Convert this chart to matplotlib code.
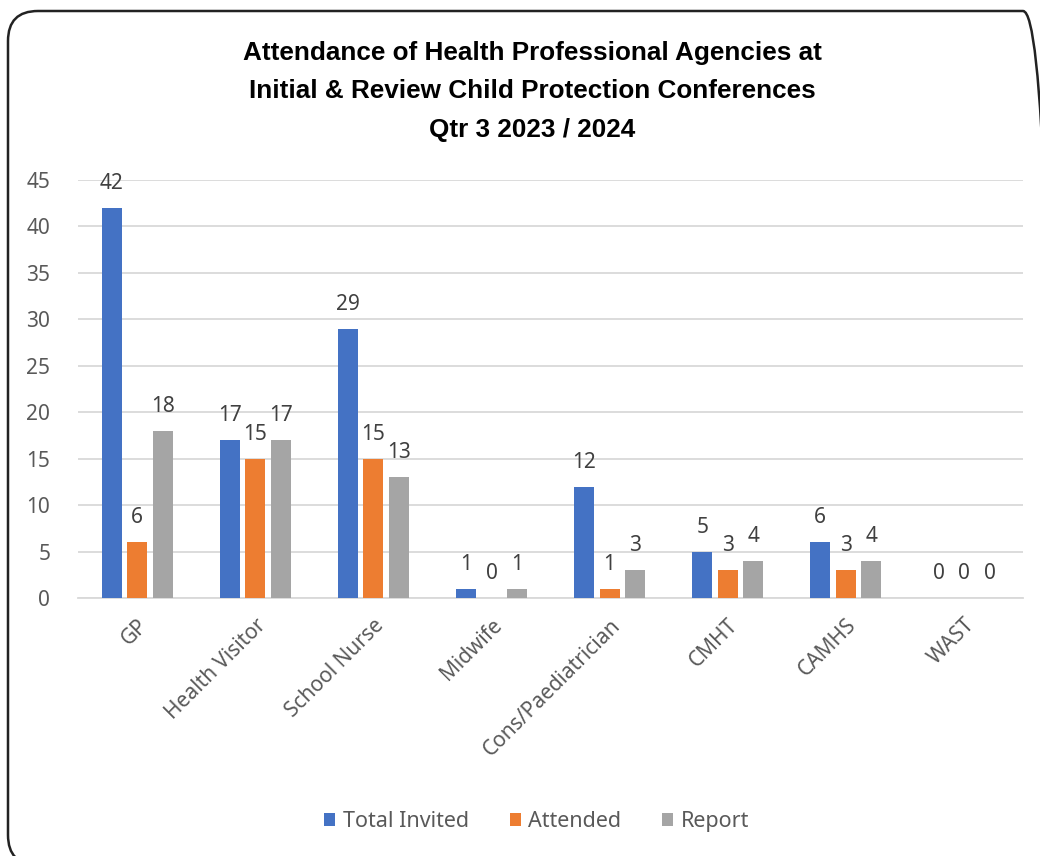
import numpy as np
import matplotlib.pyplot as plt
from matplotlib.patches import FancyBboxPatch
from matplotlib.transforms import IdentityTransform

categories = ['GP', 'Health Visitor', 'School Nurse', 'Midwife',
              'Cons/Paediatrician', 'CMHT', 'CAMHS', 'WAST']
invited = [42, 17, 29, 1, 12, 5, 6, 0]
attended = [6, 15, 15, 0, 1, 3, 3, 0]
report = [18, 17, 13, 1, 3, 4, 4, 0]

series = [('Total Invited', invited, '#4472C4'),
          ('Attended', attended, '#ED7D31'),
          ('Report', report, '#A5A5A5')]

plt.rcParams['font.family'] = ['Noto Sans', 'DejaVu Sans']

fig = plt.figure(figsize=(10.4, 8.56), dpi=100)
ax = fig.add_axes([0.075, 0.3014, 0.9087, 0.4883])

x = np.arange(len(categories))
w = 0.17
step = 0.216
for i, (name, vals, col) in enumerate(series):
    pos = x + (i - 1) * step
    ax.bar(pos, vals, w, color=col, label=name, zorder=3)
    for p, v in zip(pos, vals):
        ax.text(p, v + 1.5, str(v), ha='center', va='bottom',
                fontsize=15, color='#404040')

ax.set_xlim(-0.5, len(categories) - 0.5)
ax.set_ylim(0, 45)
ax.set_yticks(range(0, 46, 5))
ax.yaxis.grid(True, color='#D9D9D9', linewidth=1.3, zorder=0)
for s in ['top', 'right', 'left']:
    ax.spines[s].set_visible(False)
ax.spines['bottom'].set_color('#D9D9D9')
ax.spines['bottom'].set_linewidth(1.3)
ax.tick_params(axis='both', length=0, labelsize=15, labelcolor='#595959')
ax.tick_params(axis='y', pad=20)
ax.tick_params(axis='x', pad=12)
ax.set_xticks(x)
ax.set_xticklabels(categories, rotation=45, ha='right', rotation_mode='anchor')

fig.text(0.512, 0.952, 'Attendance of Health Professional Agencies at\n'
         'Initial & Review Child Protection Conferences\nQtr 3 2023 / 2024',
         ha='center', va='top', fontsize=18.8, fontweight='bold',
         linespacing=1.75, color='#000000', family='Liberation Sans')

leg = fig.legend(loc='center', bbox_to_anchor=(0.516, 0.04), ncol=3,
                 frameon=False, fontsize=15.5, handlelength=0.5,
                 handleheight=0.5, columnspacing=1.9, handletextpad=0.35)
for t in leg.get_texts():
    t.set_color('#595959')

# rounded outer frame in pixel coordinates, running off the right/bottom edge
border = FancyBboxPatch((8, -9), 1045, 854,
                        boxstyle='round,pad=0,rounding_size=30',
                        transform=IdentityTransform(), fill=False,
                        edgecolor='#222222', linewidth=1.8, clip_on=False)
fig.patches.append(border)

fig.savefig('out.png', dpi=100)
